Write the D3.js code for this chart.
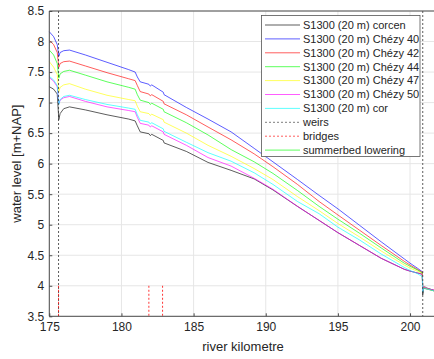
<!DOCTYPE html>
<html>
<head>
<meta charset="utf-8">
<script src="https://cdn.jsdelivr.net/npm/d3@7"></script>
<style>
  body { margin: 0; background: #fff; }
  svg { font-family: "Liberation Sans", Arial, sans-serif; }
</style>
</head>
<body>
<svg width="434" height="359"></svg>
<script>
'use strict';

// river kilometre of each computed point (shared by all series)
var km = [175.0, 175.3, 175.55, 175.66, 175.75, 176.0, 176.4, 177.5, 179.0, 180.5, 180.95, 181.1, 181.3,
          181.9, 182.0, 182.1, 182.9, 182.95, 184.5, 186.0, 187.6, 189.2, 190.5, 192.2, 193.7, 195.0,
          196.5, 198.0, 199.6, 200.0, 200.5, 200.85, 200.88, 200.95, 201.3, 201.75];

var corcen  = [7.26, 7.22, 7.14, 6.72, 6.82, 6.90, 6.93, 6.88, 6.80, 6.73, 6.70, 6.62, 6.52,
               6.49, 6.46, 6.48, 6.38, 6.34, 6.20, 6.02, 5.89, 5.75, 5.57, 5.30, 5.07, 4.87,
               4.66, 4.45, 4.27, 4.24, 4.21, 4.19, 3.85, 3.96, 3.94, 3.91];
var chezy40 = [8.16, 8.08, 7.95, 7.76, 7.82, 7.85, 7.86, 7.78, 7.66, 7.54, 7.50, 7.42, 7.34,
               7.30, 7.27, 7.29, 7.17, 7.13, 6.92, 6.73, 6.52, 6.25, 6.03, 5.74, 5.48, 5.26,
               4.99, 4.72, 4.44, 4.37, 4.29, 4.23, 3.93, 3.97, 3.95, 3.92];
var chezy42 = [8.02, 7.95, 7.82, 7.58, 7.64, 7.67, 7.68, 7.60, 7.49, 7.39, 7.36, 7.28, 7.18,
               7.14, 7.11, 7.13, 7.02, 6.98, 6.80, 6.60, 6.39, 6.16, 5.95, 5.66, 5.38, 5.16,
               4.91, 4.66, 4.40, 4.34, 4.27, 4.22, 3.92, 3.97, 3.95, 3.92];
var chezy44 = [7.86, 7.78, 7.64, 7.40, 7.47, 7.51, 7.53, 7.45, 7.34, 7.25, 7.22, 7.13, 7.04,
               7.00, 6.97, 6.99, 6.89, 6.85, 6.67, 6.47, 6.23, 6.03, 5.84, 5.56, 5.30, 5.09,
               4.86, 4.62, 4.37, 4.32, 4.26, 4.21, 3.92, 3.99, 3.95, 3.91];
var chezy47 = [7.67, 7.58, 7.46, 7.18, 7.25, 7.29, 7.31, 7.22, 7.12, 7.05, 7.03, 6.94, 6.85,
               6.82, 6.79, 6.81, 6.72, 6.68, 6.50, 6.30, 6.12, 5.92, 5.74, 5.46, 5.23, 5.02,
               4.80, 4.57, 4.34, 4.29, 4.24, 4.20, 3.92, 3.97, 3.94, 3.91];
var chezy50 = [7.41, 7.35, 7.26, 6.98, 7.04, 7.08, 7.10, 7.02, 6.93, 6.87, 6.85, 6.76, 6.66,
               6.63, 6.60, 6.62, 6.52, 6.48, 6.30, 6.10, 5.96, 5.76, 5.58, 5.30, 5.07, 4.87,
               4.66, 4.45, 4.27, 4.24, 4.21, 4.19, 3.91, 3.99, 3.95, 3.92];
var cor     = [7.43, 7.37, 7.28, 6.97, 7.05, 7.10, 7.12, 7.05, 6.97, 6.91, 6.89, 6.80, 6.71,
               6.68, 6.65, 6.67, 6.57, 6.53, 6.35, 6.18, 6.04, 5.85, 5.66, 5.38, 5.18, 4.96,
               4.75, 4.52, 4.30, 4.25, 4.20, 4.15, 3.90, 3.96, 3.94, 3.91];

var seriesNames = ["S1300 (20 m) corcen", "S1300 (20 m) Chézy 40", "S1300 (20 m) Chézy 42",
                   "S1300 (20 m) Chézy 44", "S1300 (20 m) Chézy 47", "S1300 (20 m) Chézy 50",
                   "S1300 (20 m) cor"];
var seriesValues = [corcen, chezy40, chezy42, chezy44, chezy47, chezy50, cor];
var seriesColors = ["#000000", "#0000ff", "#ff0000", "#00ff00", "#ffff00", "#ff00ff", "#00ffff"];

var weirs = [175.64, 200.88];
var bridges = [175.64, 181.9, 182.85];

var xTicks = [175, 180, 185, 190, 195, 200];
var yTicks = [3.5, 4, 4.5, 5, 5.5, 6, 6.5, 7, 7.5, 8, 8.5];

var svg = d3.select("svg"),
    x = d3.scaleLinear().domain([175, 202]).range([49.3, 438.9]),
    y = d3.scaleLinear().domain([3.5, 8.5]).range([316.3, 11]);

var axisColor = "#4d4d4d";

// grid
svg.append("g").selectAll("line").data(xTicks).enter().append("line")
    .attr("x1", function(d) { return x(d); }).attr("x2", function(d) { return x(d); })
    .attr("y1", y(3.5)).attr("y2", y(8.5))
    .attr("stroke", "#e6e6e6").attr("stroke-width", 1);
svg.append("g").selectAll("line").data(yTicks).enter().append("line")
    .attr("x1", x(175)).attr("x2", 434)
    .attr("y1", function(d) { return y(d); }).attr("y2", function(d) { return y(d); })
    .attr("stroke", "#e6e6e6").attr("stroke-width", 1);

// series
var line = d3.line()
    .x(function(d) { return x(d[0]); })
    .y(function(d) { return y(d[1]); });

seriesValues.forEach(function(vals, i) {
  svg.append("path")
    .datum(km.map(function(k, j) { return [k, vals[j]]; }))
    .attr("fill", "none")
    .attr("stroke", seriesColors[i])
    .attr("stroke-width", 0.8)
    .attr("stroke-opacity", 0.8)
    .attr("d", line);
});

// weirs and bridges
svg.append("g").selectAll("line").data(weirs).enter().append("line")
    .attr("x1", function(d) { return x(d); }).attr("x2", function(d) { return x(d); })
    .attr("y1", y(8.5)).attr("y2", y(3.5))
    .attr("stroke", "#333").attr("stroke-width", 0.8).attr("stroke-dasharray", "2,2");
svg.append("g").selectAll("line").data(bridges).enter().append("line")
    .attr("x1", function(d) { return x(d); }).attr("x2", function(d) { return x(d); })
    .attr("y1", y(4)).attr("y2", y(3.5))
    .attr("stroke", "#ff0000").attr("stroke-width", 0.8).attr("stroke-dasharray", "2,2");

// axes
var xAxis = svg.append("g")
    .attr("transform", "translate(0," + y(3.5) + ")")
    .call(d3.axisBottom(x).tickValues(xTicks).tickSize(-3).tickPadding(6));
var yAxis = svg.append("g")
    .attr("transform", "translate(" + x(175) + ",0)")
    .call(d3.axisLeft(y).tickValues(yTicks).tickSize(-3).tickPadding(5).tickFormat(d3.format("")));
[xAxis, yAxis].forEach(function(a) {
  a.select(".domain").attr("stroke", axisColor);
  a.selectAll(".tick line").attr("stroke", axisColor);
  a.selectAll("text").attr("fill", "#262626").style("font-size", "12px")
    .style("font-family", "'Liberation Sans', Arial, sans-serif");
});
xAxis.select(".domain").attr("d", "M" + x(175) + ",0H434");
yAxis.select(".domain").attr("d", "M0," + y(3.5) + "V" + y(8.5));
svg.append("line")
    .attr("x1", x(175)).attr("x2", 434).attr("y1", y(8.5)).attr("y2", y(8.5))
    .attr("stroke", axisColor);

svg.append("text")
    .attr("x", 243).attr("y", 351)
    .attr("text-anchor", "middle")
    .attr("fill", "#262626").style("font-size", "13px")
    .text("river kilometre");
svg.append("text")
    .attr("transform", "translate(21," + ((y(3.5) + y(8.5)) / 2) + ") rotate(-90)")
    .attr("text-anchor", "middle")
    .attr("fill", "#262626").style("font-size", "13px")
    .text("water level [m+NAP]");

// legend
var legendItems = seriesNames.map(function(n, i) {
  return {name: n, color: seriesColors[i], dash: null};
}).concat([
  {name: "weirs", color: "#333", dash: "2,2"},
  {name: "bridges", color: "#ff0000", dash: "2,2"},
  {name: "summerbed lowering", color: "#00ff00", dash: null}
]);

var legend = svg.append("g");
legend.append("rect")
    .attr("x", 261.5).attr("y", 15.5).attr("width", 158.5).attr("height", 141)
    .attr("fill", "#fff").attr("stroke", "#555").attr("stroke-width", 0.8);
var li = legend.selectAll(".item").data(legendItems).enter().append("g")
    .attr("class", "item")
    .attr("transform", function(d, i) { return "translate(0," + (25 + i * 13.9) + ")"; });
li.append("line")
    .attr("x1", 265).attr("x2", 300)
    .attr("stroke", function(d) { return d.color; })
    .attr("stroke-width", 0.8)
    .attr("stroke-opacity", 0.8)
    .attr("stroke-dasharray", function(d) { return d.dash; });
li.append("text")
    .attr("x", 303).attr("dy", "0.35em")
    .attr("fill", "#262626").style("font-size", "11px")
    .text(function(d) { return d.name; });
</script>
</body>
</html>
